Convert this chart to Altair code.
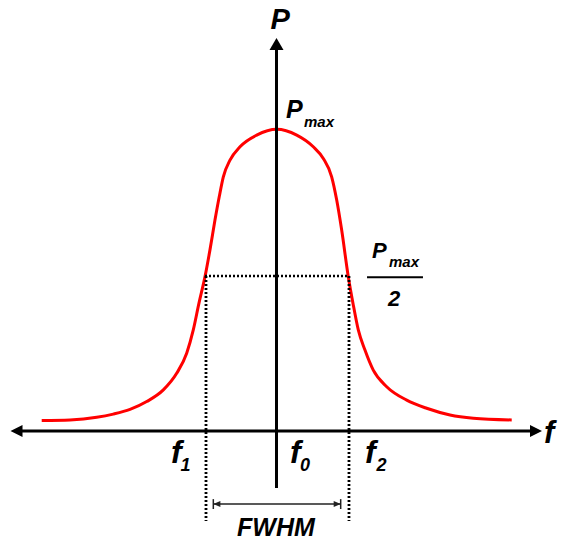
import altair as alt
import pandas as pd

# Red spectral peak (f relative to f0, P relative to Pmax)
curve_f = [-3.307, -2.908, -2.532, -2.299, -2.063, -1.828, -1.594, -1.406, -1.265, -1.172,
           -1.092, -1.007, -0.937, -0.866, -0.806, -0.749, -0.655, -0.514, -0.279, 0.003,
           0.285, 0.518, 0.659, 0.777, 0.848, 0.918, 1.011, 1.077, 1.152, 1.246,
           1.363, 1.552, 1.834, 2.115, 2.444, 2.772, 3.313]
curve_p = [0.000, 0.002, 0.011, 0.022, 0.038, 0.065, 0.105, 0.162, 0.231, 0.311,
           0.403, 0.494, 0.586, 0.689, 0.769, 0.837, 0.894, 0.940, 0.980, 1.000,
           0.980, 0.940, 0.900, 0.837, 0.757, 0.654, 0.494, 0.403, 0.311, 0.242,
           0.173, 0.116, 0.070, 0.042, 0.019, 0.008, 0.002]

# Key positions
f1, f0, f2 = -0.993, 0.0, 1.021
half_p = 0.496
axis_p = -0.036          # height of the f axis
axis_f_left, axis_f_right = -3.669, 3.654
axis_p_bottom, axis_p_top = -0.232, 1.286
dotted_bottom = -0.345
fwhm_p = -0.287
fwhm_left, fwhm_right = -0.890, 0.904
frac_p, frac_left, frac_right = 0.492, 1.275, 2.063

# Labels
label_text = ["P", "P", "max", "P", "max", "2", "f", "1", "f", "0", "f", "2", "f", "FWHM"]
label_f = [-0.085, 0.134, 0.387, 1.345, 1.585, 1.570, -1.486, -1.352, 0.190, 0.331, 1.246, 1.408, 3.768, -0.556]
label_p = [1.343, 1.038, 1.009, 0.557, 0.526, 0.393, -0.147, -0.173, -0.147, -0.173, -0.147, -0.173, -0.078, -0.398]
label_size = [29, 25, 15, 22, 15, 22, 32, 18, 32, 18, 32, 18, 31, 25]

xs = alt.Scale(domain=[-3.7817, 3.9789], nice=False, zero=False)
ys = alt.Scale(domain=[-0.4035, 1.4166], nice=False, zero=False)

def X(field="f"):
    return alt.X(f"{field}:Q", scale=xs, axis=None)

def Y(field="p"):
    return alt.Y(f"{field}:Q", scale=ys, axis=None)

curve_df = pd.DataFrame({"f": curve_f, "p": curve_p})
curve = alt.Chart(curve_df).mark_line(color="#ff0000", strokeWidth=3, interpolate="monotone").encode(
    x=X(), y=Y())

# Axes
haxis_df = pd.DataFrame({"f": [axis_f_left], "f2": [axis_f_right], "p": [axis_p]})
haxis = alt.Chart(haxis_df).mark_rule(color="black", strokeWidth=3).encode(
    x=X(), x2="f2:Q", y=Y())
vaxis_df = pd.DataFrame({"f": [f0], "p": [axis_p_bottom], "p2": [axis_p_top]})
vaxis = alt.Chart(vaxis_df).mark_rule(color="black", strokeWidth=3).encode(
    x=X(), y=Y(), y2="p2:Q")

def arrow(f, p, shape, size, color="black"):
    df = pd.DataFrame({"f": [f], "p": [p]})
    return alt.Chart(df).mark_point(filled=True, shape=shape, size=size, color=color,
                                    opacity=1, strokeWidth=0).encode(x=X(), y=Y())

arr_left = arrow(-3.662, axis_p, "M-1,0L1,-1L1,1Z", 144)
arr_right = arrow(3.655, axis_p, "M1,0L-1,-1L-1,1Z", 144)
arr_up = arrow(f0, 1.293, "M0,-0.86L1,0.86L-1,0.86Z", 196)

# Dotted half-maximum lines
dot_h_df = pd.DataFrame({"f": [-1.007], "f2": [f2 - 0.004], "p": [half_p]})
dot_h = alt.Chart(dot_h_df).mark_rule(color="black", strokeWidth=2.5, strokeDash=[2, 2]).encode(
    x=X(), x2="f2:Q", y=Y())
dot_v_df = pd.DataFrame({"f": [f1, f2], "p": [half_p, half_p], "p2": [dotted_bottom, dotted_bottom]})
dot_v = alt.Chart(dot_v_df).mark_rule(color="black", strokeWidth=2.8, strokeDash=[2, 2]).encode(
    x=X(), y=Y(), y2="p2:Q")

# FWHM double arrow
fwhm_df = pd.DataFrame({"f": [fwhm_left], "f2": [fwhm_right], "p": [fwhm_p]})
fwhm_line = alt.Chart(fwhm_df).mark_rule(color="#222222", strokeWidth=1.5).encode(
    x=X(), x2="f2:Q", y=Y())
fwhm_ticks_df = pd.DataFrame({"f": [fwhm_left, fwhm_right], "p": [-0.270, -0.270], "p2": [-0.304, -0.304]})
fwhm_ticks = alt.Chart(fwhm_ticks_df).mark_rule(color="#222222", strokeWidth=1.5).encode(
    x=X(), y=Y(), y2="p2:Q")
fwhm_al = arrow(-0.840, fwhm_p, "M-1,0L1,-0.86L1,0.86Z", 49, "#222222")
fwhm_ar = arrow(0.855, fwhm_p, "M1,0L-1,-0.86L-1,0.86Z", 49, "#222222")

# Fraction bar of Pmax/2
frac_df = pd.DataFrame({"f": [frac_left], "f2": [frac_right], "p": [frac_p]})
frac = alt.Chart(frac_df).mark_rule(color="black", strokeWidth=2).encode(
    x=X(), x2="f2:Q", y=Y())

labels_df = pd.DataFrame({"t": label_text, "f": label_f, "p": label_p, "s": label_size})
labels = alt.Chart(labels_df).mark_text(
    align="left", baseline="alphabetic", font="Liberation Sans",
    fontStyle="italic", fontWeight="bold", color="black").encode(
    x=X(), y=Y(), text="t:N", size=alt.Size("s:Q", scale=None, legend=None))

chart = alt.layer(
    curve, haxis, vaxis, arr_left, arr_right, arr_up, dot_h, dot_v,
    fwhm_line, fwhm_ticks, fwhm_al, fwhm_ar, frac, labels
).properties(
    width=551, height=530, padding=0,
    autosize=alt.AutoSizeParams(type="none")
).configure_view(strokeWidth=0)

chart.save("out.html", embed_options={"renderer": "svg", "actions": False})
